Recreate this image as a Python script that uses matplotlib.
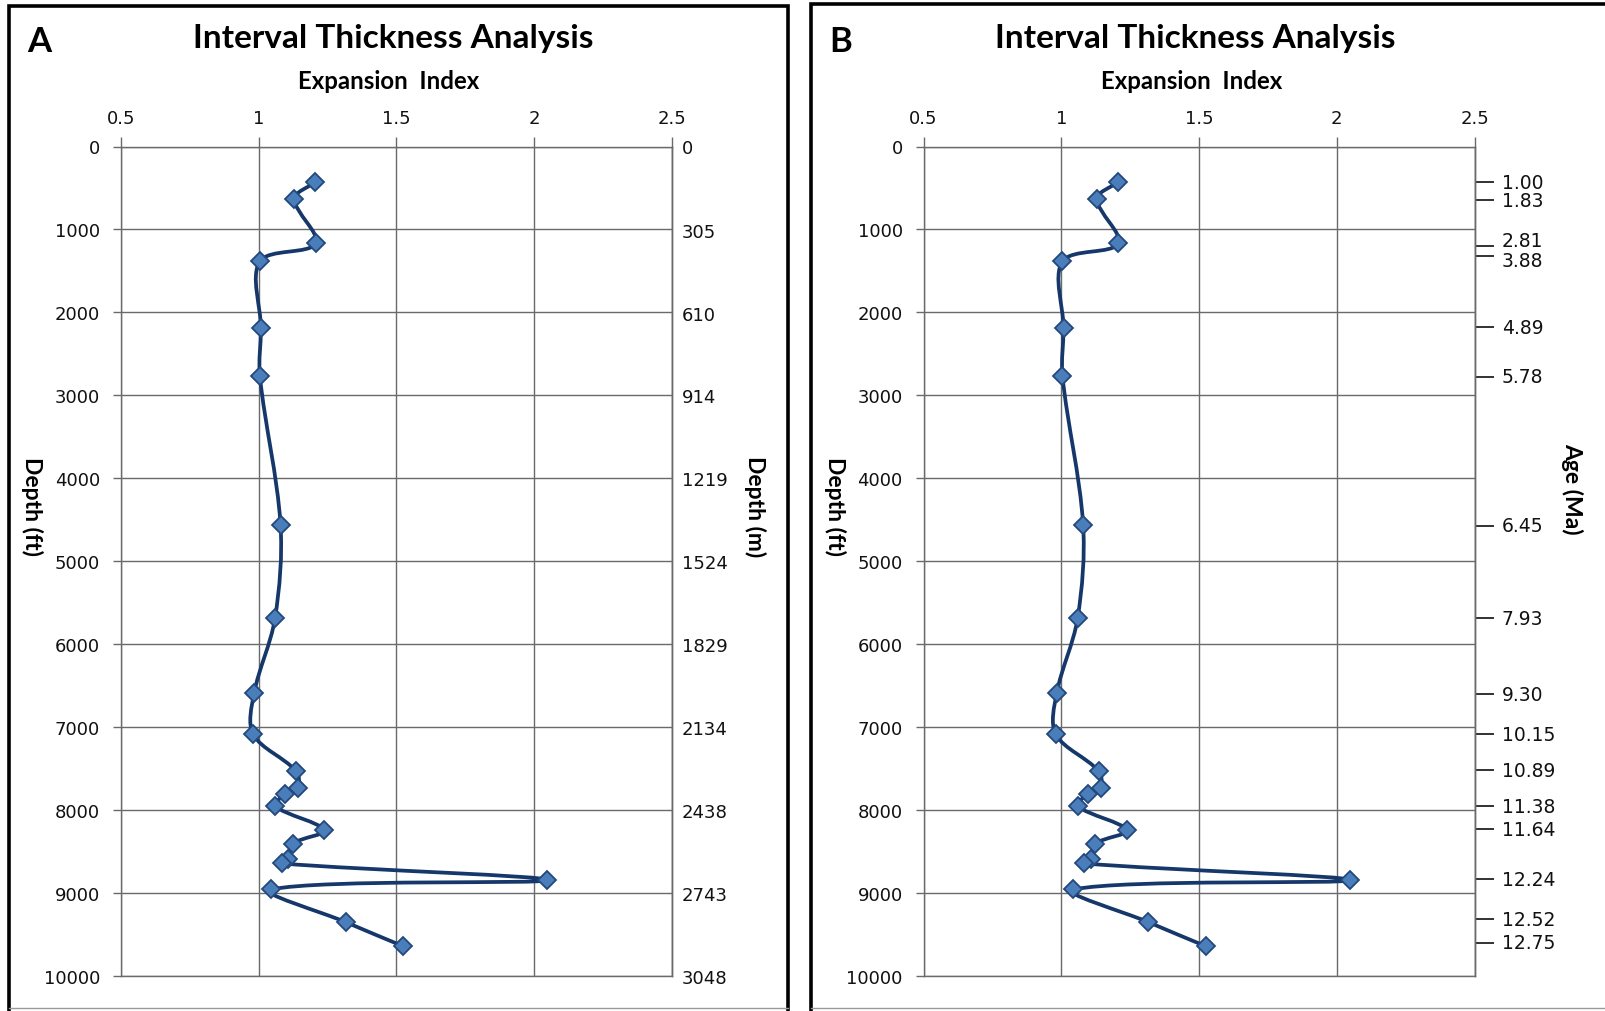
import numpy as np
import matplotlib
matplotlib.use("Agg")
import matplotlib.pyplot as plt
from matplotlib.path import Path
from matplotlib.patches import PathPatch
from matplotlib.lines import Line2D
from matplotlib.transforms import blended_transform_factory, ScaledTranslation

# ---------------- data ----------------
expansion_index = [1.204, 1.129, 1.207, 1.004, 1.008, 1.004, 1.079, 1.059, 0.983, 0.980,
                   1.135, 1.143, 1.095, 1.059, 1.238, 1.123, 1.107, 1.083, 2.048, 1.044,
                   1.316, 1.524]
depth_ft = [432, 633, 1168, 1385, 2193, 2765, 4557, 5688, 6592, 7087,
            7529, 7730, 7811, 7951, 8241, 8406, 8587, 8643, 8844, 8957,
            9351, 9641]

x_ticks = [0.5, 1.0, 1.5, 2.0, 2.5]
x_tick_labels = ["0.5", "1", "1.5", "2", "2.5"]
depth_ft_ticks = [0, 1000, 2000, 3000, 4000, 5000, 6000, 7000, 8000, 9000, 10000]
depth_m_ticks = [0, 305, 610, 914, 1219, 1524, 1829, 2134, 2438, 2743, 3048]
age_labels = ["1.00", "1.83", "2.81", "3.88", "4.89", "5.78", "6.45", "7.93", "9.30",
              "10.15", "10.89", "11.38", "11.64", "12.24", "12.52", "12.75"]
age_depth_ft = [432, 645, 1197, 1325, 2181, 2777, 4574, 5688, 6604,
                7087, 7521, 7952, 8233, 8836, 9318, 9600]

title = "Interval Thickness Analysis"
x_title = "Expansion  Index"

# ---------------- style ----------------
W, H = 1606, 1012
LINE_C = "#163769"
MFACE = "#4a7ebb"
MEDGE = "#23487c"
GRID_C = "#6a6a6a"
TXT = ["Lato", "DejaVu Sans"]
NUM = ["DejaVu Sans"]
# small label nudges (points) for crowded age labels
age_nudge = {"2.81": 3.5, "3.88": -3.0}


def fx(px):
    return px / W


def fy(py):
    return 1 - py / H


def smooth_path(xs, ys, sx, sy, f=1.0 / 3.0):
    """Bezier smoothing through the data points (tangents weighted by
    neighbouring segment lengths, measured in screen-like units)."""
    pts = np.column_stack([xs, ys]).astype(float)
    n = len(pts)
    scr = pts * np.array([sx, sy])

    def dist(i, j):
        return float(np.hypot(*(scr[j] - scr[i])))

    verts = [pts[0]]
    codes = [Path.MOVETO]
    for i in range(n - 1):
        p1, p2 = pts[i], pts[i + 1]
        d12 = dist(i, i + 1)
        if i > 0:
            d01 = dist(i - 1, i)
            c1 = p1 + (p2 - pts[i - 1]) * d12 / (d01 + d12) * f
        else:
            c1 = p1 + (p2 - p1) * f
        if i + 2 < n:
            d23 = dist(i + 1, i + 2)
            c2 = p2 - (pts[i + 2] - p1) * d12 / (d12 + d23) * f
        else:
            c2 = p2 - (p2 - p1) * f
        verts += [c1, c2, p2]
        codes += [Path.CURVE4] * 3
    return Path(verts, codes)


fig = plt.figure(figsize=(W / 100, H / 100), dpi=100)
fig.patch.set_facecolor("white")

plot_w = 672 - 121
top_px, bot_px = 147.5, 977
offsets = [0, 802.6]
letters = ["A", "B"]

for k, off in enumerate(offsets):
    left = 121 + off
    ax = fig.add_axes([fx(left), fy(bot_px), plot_w / W, (bot_px - top_px) / H])
    ax.set_xlim(0.5, 2.5)
    ax.set_ylim(10000, 0)
    ax.set_xticks(x_ticks)
    ax.set_xticklabels(x_tick_labels, family=NUM)
    ax.set_yticks(depth_ft_ticks)
    ax.set_yticklabels([str(v) for v in depth_ft_ticks], family=NUM)
    ax.xaxis.tick_top()
    ax.grid(True, color=GRID_C, lw=1.0, zorder=0)
    ax.set_axisbelow(True)
    ax.tick_params(axis="x", direction="out", length=7, width=1.0, color=GRID_C,
                   pad=7, labelsize=13, top=True, bottom=False, labelcolor="#111111")
    ax.tick_params(axis="y", direction="out", length=6, width=1.0, color=GRID_C,
                   pad=9, labelsize=13, left=True, right=False, labelcolor="#111111")
    for s in ax.spines.values():
        s.set_color(GRID_C)
        s.set_linewidth(1.0)

    # screen scale: px per x-unit and px per ft
    sx = plot_w / 2.0
    sy = (bot_px - top_px) / 10000.0
    path = smooth_path(expansion_index, depth_ft, sx, sy)
    ax.add_patch(PathPatch(path, facecolor="none", edgecolor=LINE_C, lw=2.7,
                           transform=ax.transData, zorder=3, capstyle="round",
                           joinstyle="round"))
    ax.plot(expansion_index, depth_ft, ls="none", marker="D", ms=9.3,
            mfc=MFACE, mec=MEDGE, mew=1.3, zorder=4)

    if k == 0:
        sec = ax.secondary_yaxis("right", functions=(lambda f: f * 0.3048,
                                                      lambda m: m / 0.3048))
        sec.set_yticks(depth_m_ticks)
        sec.set_yticklabels([str(v) for v in depth_m_ticks], family=NUM)
        sec.tick_params(length=0, pad=7, labelsize=13, labelcolor="#111111")
        sec.spines["right"].set_color(GRID_C)
        sec.spines["right"].set_linewidth(1.0)
        fig.text(fx(755), fy(507), "Depth (m)", rotation=-90, ha="center",
                 va="center", fontsize=16.5, fontweight="bold", family=TXT)
    else:
        sec = ax.secondary_yaxis("right", functions=(lambda f: f, lambda f: f))
        sec.set_yticks(age_depth_ft)
        sec.set_yticklabels([""] * len(age_depth_ft))
        sec.tick_params(length=13.5, width=1.3, color="#222222")
        sec.spines["right"].set_color(GRID_C)
        sec.spines["right"].set_linewidth(1.0)
        btr = blended_transform_factory(ax.transAxes, ax.transData)
        for lab, d in zip(age_labels, age_depth_ft):
            dy = age_nudge.get(lab, 0.0)
            tr = btr + ScaledTranslation(19.5 / 72, dy / 72, fig.dpi_scale_trans)
            ax.text(1.0, d, lab, transform=tr, ha="left", va="center",
                    fontsize=13.5, family=NUM, color="#111111", clip_on=False)
        fig.text(fx(1572), fy(489), "Age (Ma)", rotation=-90, ha="center",
                 va="center", fontsize=16.5, fontweight="bold", family=TXT)

    # titles and labels
    cx = 396 + off
    fig.text(fx(cx - 3), fy(48), title, ha="center", va="baseline", fontsize=24,
             fontweight="bold", family=TXT)
    fig.text(fx(cx - 7), fy(89), x_title, ha="center", va="baseline",
             fontsize=17.3, fontweight="bold", family=TXT)
    fig.text(fx(32 + off), fy(507), "Depth (ft)", rotation=-90, ha="center",
             va="center", fontsize=16.5, fontweight="bold", family=TXT)
    fig.text(fx(27 + off), fy(52.5), letters[k], ha="left", va="baseline",
             fontsize=25, fontweight="bold", family=TXT)

# ---------------- panel frames ----------------
frame_lw = 2.6
frames = [
    [(9, 1012), (9, 6.5), (788, 6.5), (788, 1012)],
    [(811, 1012), (811, 5.3), (1610, 5.3)],
]
for fr in frames:
    xs = [fx(p[0]) for p in fr]
    ys = [fy(p[1]) for p in fr]
    fig.add_artist(Line2D(xs, ys, color="black", lw=frame_lw,
                          transform=fig.transFigure, solid_joinstyle="miter"))
for (a, b) in [(9, 788), (811, 1606)]:
    fig.add_artist(Line2D([fx(a), fx(b)], [fy(1009), fy(1009)], color="#9a9a9a",
                          lw=1.0, transform=fig.transFigure))

fig.savefig("out.png", dpi=100, facecolor="white")
